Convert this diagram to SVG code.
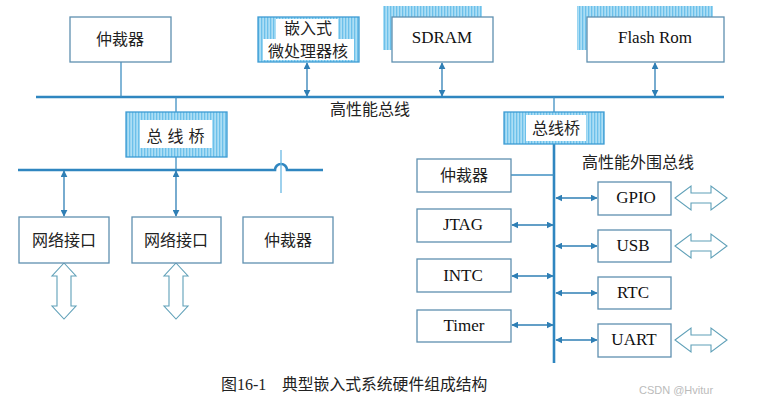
<svg xmlns="http://www.w3.org/2000/svg" width="778" height="404" viewBox="0 0 778 404">
<style>
.box{fill:#fff;stroke:#5f90b0;stroke-width:1.3}
.hbox{fill:url(#hatch);stroke:#3d9bd3;stroke-width:1.3}
.bus{stroke:#2f86c0;stroke-width:2.6;fill:none}
.ln{stroke:#3f8fc2;stroke-width:1.3;fill:none}
.ar{stroke:#2f7fb5;stroke-width:1.3;fill:none;marker-start:url(#ah);marker-end:url(#ah)}
.hol{fill:#fff;stroke:#5fa0b8;stroke-width:1.1}
.cn{font-family:"Noto Sans CJK SC","Noto Sans",sans-serif;font-size:16px;fill:#222;text-anchor:middle}
.en{font-family:"Liberation Serif",serif;font-size:17px;fill:#111;text-anchor:middle}
</style>
<defs>
<pattern id="hatch" width="3" height="3" patternUnits="userSpaceOnUse">
<rect width="3" height="3" fill="#acdef5"/>
<rect width="1.3" height="3" fill="#6cc0ea"/>
</pattern>
<marker id="ah" viewBox="0 0 10 10" refX="9" refY="5" markerWidth="7" markerHeight="7" markerUnits="userSpaceOnUse" orient="auto-start-reverse">
<path d="M0,0 L10,5 L0,10 Z" fill="#2f7fb5"/>
</marker>
</defs>
<rect width="778" height="404" fill="#fff"/>

<g id="connectors">
<path class="bus" d="M36,97 H724"/>
<path class="bus" d="M18,170 H275 A6,6 0 0 1 287,170 H323"/>
<path class="bus" d="M554,144 V363"/>
<path class="ln" d="M121,62 V97"/>
<path class="ln" d="M176,97 V112"/>
<path class="ln" d="M176,157 V170"/>
<path class="ln" d="M554,97 V112"/>
<path d="M281,150 V193" stroke="#6ab8e4" stroke-width="1.3"/>
<path class="ln" d="M511,175 H554"/>
<path class="ar" d="M307,63 V96"/>
<path class="ar" d="M442,63 V96"/>
<path class="ar" d="M655,63 V96"/>
<path class="ar" d="M64,171 V216"/>
<path class="ar" d="M176,171 V216"/>
<path class="ar" d="M512,225 H553"/>
<path class="ar" d="M512,276 H553"/>
<path class="ar" d="M512,325 H553"/>
<path class="ar" d="M556,198 H597"/>
<path class="ar" d="M556,246 H597"/>
<path class="ar" d="M556,293 H597"/>
<path class="ar" d="M556,340 H597"/>
<path class="hol" d="M64,263 L76,276 L71,276 L71,306 L76,306 L64,319 L52,306 L57,306 L57,276 L52,276 Z"/>
<path class="hol" d="M176,263 L188,276 L183,276 L183,306 L188,306 L176,319 L164,306 L169,306 L169,276 L164,276 Z"/>
<path class="hol" d="M675,198 L691,186 L691,193 L711,193 L711,186 L727,198 L711,210 L711,203 L691,203 L691,210 Z"/>
<path class="hol" d="M675,246 L691,234 L691,241 L711,241 L711,234 L727,246 L711,258 L711,251 L691,251 L691,258 Z"/>
<path class="hol" d="M675,340 L691,328 L691,335 L711,335 L711,328 L727,340 L711,352 L711,345 L691,345 L691,352 Z"/>
</g>

<text class="cn" x="370" y="115">高性能总线</text>
<text class="cn" x="638" y="168">高性能外围总线</text>

<g id="arbiter-top">
<rect class="box" x="70" y="17" width="101" height="45"/>
<text class="cn" x="120" y="45">仲裁器</text>
</g>
<g id="cpu-core">
<rect class="hbox" x="258" y="17" width="101" height="45"/>
<rect x="276" y="19" width="62" height="20" fill="#fff"/>
<rect x="263" y="39" width="91" height="21" fill="#fff"/>
<text class="cn" x="308" y="34" font-size="15.5">嵌入式</text>
<text class="cn" x="308" y="57" font-size="15.5">微处理器核</text>
</g>
<g id="sdram">
<rect x="383" y="6" width="99" height="44" fill="url(#hatch)"/>
<rect class="box" x="392" y="17" width="101" height="45"/>
<text class="en" x="442" y="43" font-size="16">SDRAM</text>
</g>
<g id="flash">
<rect x="577" y="6" width="136" height="44" fill="url(#hatch)"/>
<rect class="box" x="587" y="17" width="137" height="45"/>
<text class="en" x="655" y="43" font-size="16">Flash Rom</text>
</g>
<g id="bridge-left">
<rect class="hbox" x="126" y="112" width="101" height="45"/>
<rect x="140" y="120" width="72" height="28" fill="#fff"/>
<text class="cn" x="178" y="142" font-size="17" letter-spacing="5">总线桥</text>
</g>
<g id="bridge-right">
<rect class="hbox" x="504" y="112" width="100" height="32"/>
<rect x="526" y="115" width="60" height="26" fill="#fff"/>
<text class="cn" x="556" y="134" font-size="17">总线桥</text>
</g>
<g id="net1">
<rect class="box" x="19" y="217" width="90" height="46"/>
<text class="cn" x="64" y="246">网络接口</text>
</g>
<g id="net2">
<rect class="box" x="132" y="217" width="89" height="46"/>
<text class="cn" x="176" y="246">网络接口</text>
</g>
<g id="arbiter-low">
<rect class="box" x="243" y="217" width="90" height="46"/>
<text class="cn" x="288" y="246">仲裁器</text>
</g>
<g id="arbiter-right">
<rect class="box" x="417" y="159" width="94" height="33"/>
<text class="cn" x="464" y="181">仲裁器</text>
</g>
<g id="jtag">
<rect class="box" x="417" y="209" width="94" height="33"/>
<text class="en" x="463" y="230">JTAG</text>
</g>
<g id="intc">
<rect class="box" x="417" y="259" width="94" height="33"/>
<text class="en" x="463" y="281">INTC</text>
</g>
<g id="timer">
<rect class="box" x="417" y="310" width="94" height="32"/>
<text class="en" x="464" y="331">Timer</text>
</g>
<g id="gpio">
<rect class="box" x="598" y="182" width="73" height="33"/>
<text class="en" x="636" y="203">GPIO</text>
</g>
<g id="usb">
<rect class="box" x="598" y="230" width="73" height="32"/>
<text class="en" x="633" y="251">USB</text>
</g>
<g id="rtc">
<rect class="box" x="598" y="277" width="73" height="32"/>
<text class="en" x="633" y="298">RTC</text>
</g>
<g id="uart">
<rect class="box" x="598" y="324" width="73" height="33"/>
<text class="en" x="634" y="345">UART</text>
</g>

<text x="221" y="390" font-family="'Liberation Serif','Noto Sans CJK SC',serif" font-size="16" fill="#222">图16-1</text>
<text x="282" y="390" font-family="'Noto Sans CJK SC',sans-serif" font-size="15.8" fill="#222">典型嵌入式系统硬件组成结构</text>
<text x="676" y="394" font-family="'Liberation Sans',sans-serif" font-size="11" fill="#bbb" text-anchor="middle">CSDN @Hvitur</text>
</svg>
